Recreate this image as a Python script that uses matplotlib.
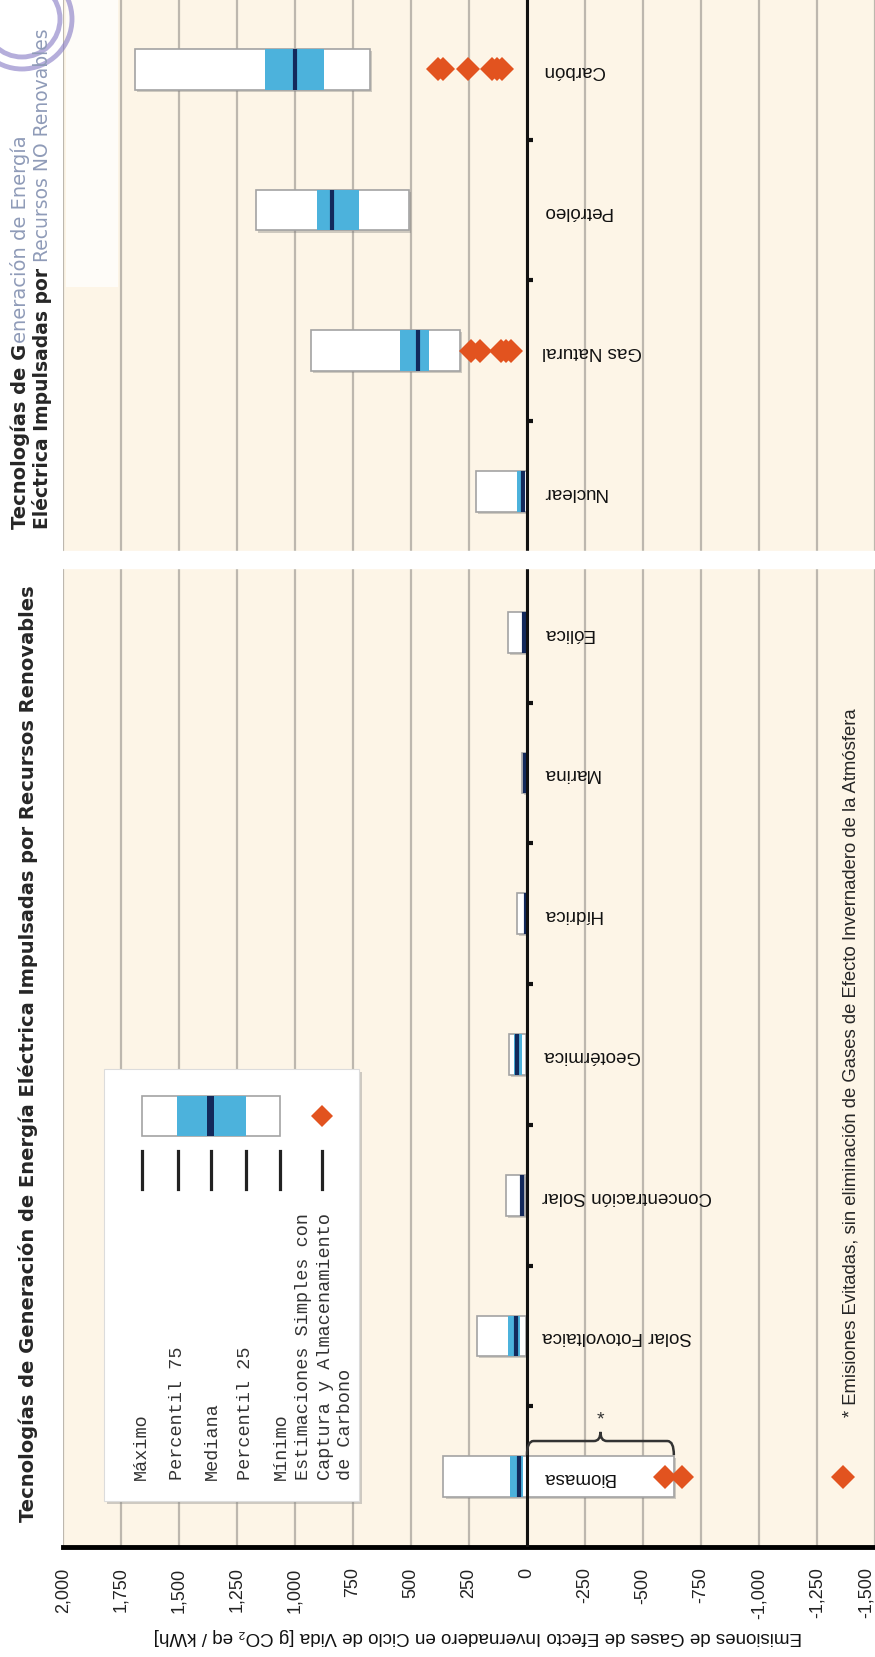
import numpy as np
import matplotlib
matplotlib.use('Agg')
import matplotlib.pyplot as plt
from matplotlib.path import Path
from matplotlib.patches import PathPatch, Rectangle, Circle
from matplotlib import patheffects as pe
from matplotlib import font_manager

# datos (g CO2 eq / kWh), de abajo hacia arriba
categorias = ['Biomasa', 'Solar Fotovoltaica', 'Concentración Solar', 'Geotérmica',
              'Hídrica', 'Marina', 'Eólica', 'Nuclear', 'Gas Natural', 'Petróleo', 'Carbón']
maximo = [360, 217, 89, 79, 43, 23, 81, 220, 930, 1170, 1689]
p75 = [75, 80, 32, 57, 7, 9, 20, 45, 548, 907, 1130]
mediana = [36, 46, 22, 45, 4, 8, 12, 16, 469, 840, 1001]
p25 = [16, 29, 14, 20, 3, 6, 8, 8, 422, 722, 877]
minimo = [-633, 5, 7, 6, 0, 2, 2, 1, 290, 510, 675]

# estimaciones con captura y almacenamiento de carbono
ccs_biomasa = [-594, -670, -1362]
ccs_gas = [240, 202, 114, 90, 69]
ccs_carbon = [382, 362, 254, 150, 130, 107]

ticks_val = [2000, 1750, 1500, 1250, 1000, 750, 500, 250, 0, -250, -500, -750, -1000, -1250, -1500]

titulo_ren = 'Tecnologías de Generación de Energía Eléctrica Impulsadas por Recursos Renovables'
titulo_noren = [('Tecnologías de G', 'eneración de Energía'),
                ('Eléctrica Impulsadas por', 'Recursos NO Renovables')]
etiqueta_eje = 'Emisiones de Gases de Efecto Invernadero en Ciclo de Vida [g CO₂ eq / kWh]'
nota = '* Emisiones Evitadas, sin eliminación de Gases de Efecto Invernadero de la Atmósfera'
leyenda = ['Máximo', 'Percentil 75', 'Mediana', 'Percentil 25', 'Mínimo',
           'Estimaciones Simples con', 'Captura y Almacenamiento', 'de Carbono']

CREMA = '#fdf5e7'
GRIS = '#bdb7ae'
AZUL = '#4cb2dc'
MARINO = '#13295b'
NARANJA = '#e2531f'

names = {f.name for f in font_manager.fontManager.ttflist}
if 'Liberation Sans Narrow' in names:
    COND = ['Liberation Sans Narrow', 'DejaVu Sans']
    cond_size = 16.3
else:
    COND = ['Liberation Sans', 'DejaVu Sans']
    cond_size = 13.5
SANS = ['Liberation Sans', 'DejaVu Sans']
ANCHA = ['DejaVu Sans']
MONO = ['Liberation Mono', 'DejaVu Sans Mono']

W, H = 875, 1658
fig = plt.figure(figsize=(W / 100, H / 100), dpi=100)
fig.patch.set_facecolor('white')

ax = fig.add_axes([63 / W, (H - 1548) / H, (W - 63) / W, 1548 / H])
ax.set_facecolor(CREMA)
ax.set_xlim(2000, -1500)
ax.set_ylim(-0.5, len(categorias) - 0.5)
ax.set_axisbelow(True)
ax.grid(axis='x', color=GRIS, lw=1.6)
for s in ['top', 'right', 'left']:
    ax.spines[s].set_visible(False)
ax.spines['bottom'].set_linewidth(3.5)
ax.set_yticks([])
ax.set_xticks(ticks_val)
etiq = ax.set_xticklabels([f'{v:,}' for v in ticks_val], rotation=90, fontsize=cond_size - 0.5,
                          family=COND, color='#222222')
etiq[-1].set_horizontalalignment('right')
ax.tick_params(axis='x', length=0, pad=14)

y = np.arange(len(categorias))
h = 0.29
sombra = [pe.withSimplePatchShadow(offset=(1.5, -1.5), shadow_rgbFace='#777777', alpha=0.35)]

cajas = ax.barh(y, np.array(maximo) - np.array(minimo), left=minimo, height=h,
                color='white', edgecolor='#a3a3a3', lw=1.2, zorder=2)
for c in cajas:
    c.set_path_effects(sombra)
ax.barh(y, np.array(p75) - np.array(p25), left=p25, height=h, color=AZUL, lw=0, zorder=2.1)
ax.vlines(mediana, y - h / 2, y + h / 2, color=MARINO, lw=3, zorder=2.2)

ax.axvline(0, color='#111111', lw=2.2, zorder=3)
limite = categorias.index('Nuclear') - 0.5
bordes = [b for b in np.arange(len(categorias) - 1) + 0.5 if b != limite]
for b in bordes:
    ax.plot([0, -28], [b, b], color='#111111', lw=3, solid_capstyle='butt', zorder=3)

# separacion entre paneles
ax.axhspan(limite - 0.045, limite + 0.075, color='white', zorder=3.5)

# puntos CCS
for nombre, vals in [('Biomasa', ccs_biomasa), ('Gas Natural', ccs_gas), ('Carbón', ccs_carbon)]:
    i = categorias.index(nombre)
    ax.plot(vals, [i] * len(vals), 'D', color=NARANJA, ms=12, mew=0, zorder=4)

for i, nombre in enumerate(categorias):
    ax.text(-65, i, nombre, rotation=180, ha='left', va='center', fontsize=cond_size,
            family=COND, color='#111111', zorder=5)

# llave de emisiones evitadas
x0, x1 = 0, minimo[0]
xm = (x0 + x1) / 2
yb, c, hh, r = 0.253, 0.1, 0.065, 28
verts = [(x0, yb - c), (x0, yb), (x0 - r, yb), (xm + r, yb), (xm, yb), (xm, yb + hh),
         (xm, yb), (xm - r, yb), (x1 + r, yb), (x1, yb), (x1, yb - c)]
codes = [Path.MOVETO, Path.CURVE3, Path.CURVE3, Path.LINETO, Path.CURVE3, Path.CURVE3,
         Path.CURVE3, Path.CURVE3, Path.LINETO, Path.CURVE3, Path.CURVE3]
ax.add_patch(PathPatch(Path(verts, codes), fc='none', ec='#333333', lw=1.8, zorder=4))
ax.text(xm, yb + hh + 0.03, '*', ha='center', va='bottom', fontsize=14, family=SANS, color='#333333')

# capa de anotaciones en pixeles
ov = fig.add_axes([0, 0, 1, 1], zorder=5)
ov.set_xlim(0, W)
ov.set_ylim(H, 0)
ov.axis('off')
ov.patch.set_alpha(0)

# recuadro blanco y sello de la esquina
ov.add_patch(Rectangle((66, 0), 52, 288, fc='white', alpha=0.75, lw=0))
for rr in [50, 38]:
    ov.add_patch(Circle((22, 20), rr, fc='none', ec='#8478c4', lw=3.5, alpha=0.6))

caja_ley = Rectangle((104, 1070), 255, 432, fc='white', ec='#dcdcdc', lw=0.8)
caja_ley.set_path_effects([pe.withSimplePatchShadow(offset=(2, -2), shadow_rgbFace='#888888', alpha=0.4)])
ov.add_patch(caja_ley)
ov.add_patch(Rectangle((141.7, 1097), 138.3, 40, fc='white', ec='#a3a3a3', lw=1.2))
ov.add_patch(Rectangle((177.3, 1097), 68.7, 40, fc=AZUL, lw=0))
ov.add_patch(Rectangle((206.7, 1097), 7.3, 40, fc=MARINO, lw=0))
ov.plot(322, 1117, 'D', color=NARANJA, ms=11, mew=0)
for xl in [141.7, 178, 210.7, 246, 280, 322]:
    ov.plot([xl, xl], [1152, 1190], color='#222222', lw=2.3)
for xl, txt in zip([141, 177, 212, 246, 281, 304, 325, 346], leyenda):
    ov.text(xl, 1480, txt, rotation=90, rotation_mode='anchor', ha='left', va='center',
            fontsize=13.3, family=MONO, color='#333333')

ov.text(28, 1054, titulo_ren, rotation=90, ha='center', va='center', fontsize=14,
        fontweight='bold', family=ANCHA, color='#262626')

renderer = fig.canvas.get_renderer()
for xl, fs, sep, (oscuro, claro) in zip([20, 42], [14, 13.5], [1, 6], titulo_noren):
    t = ov.text(xl, 529, oscuro, rotation=90, rotation_mode='anchor', ha='left', va='center',
                fontsize=fs, fontweight='bold', family=ANCHA, color='#262626')
    bb = t.get_window_extent(renderer)
    y_fin = ov.transData.inverted().transform((0, bb.y1))[1]
    ov.text(xl, y_fin - sep, claro, rotation=90, rotation_mode='anchor', ha='left', va='center',
            fontsize=fs, family=ANCHA, color='#8f9bb8')

ov.text(851, 1417, nota, rotation=90, rotation_mode='anchor', ha='left', va='center',
        fontsize=13.3, family=SANS, color='#262626')
ov.text(478, 1637, etiqueta_eje, rotation=180, ha='center', va='center',
        fontsize=cond_size, family=COND, color='#111111')

fig.savefig('out.png', dpi=100, facecolor='white')
